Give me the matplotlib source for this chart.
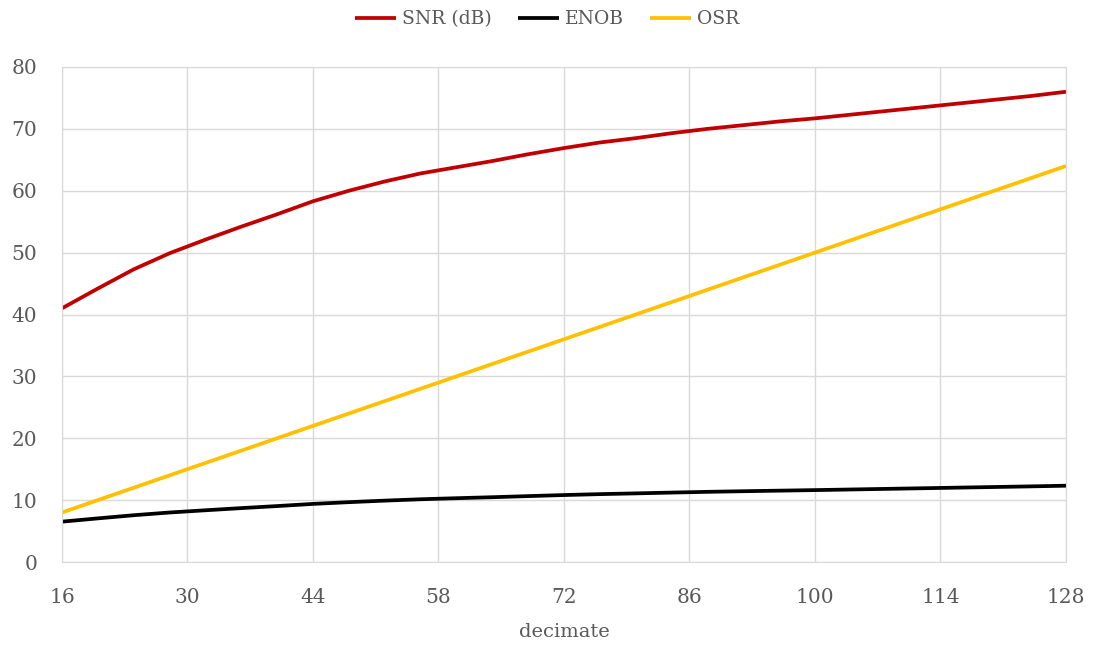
import matplotlib
matplotlib.use("Agg")
import matplotlib.pyplot as plt

# decimate values and the three series
decimate = [16, 20, 24, 28, 32, 36, 40, 44, 48, 52, 56, 60, 64, 68, 72,
            76, 80, 84, 88, 92, 96, 100, 104, 108, 112, 116, 120, 124, 128]
snr = [41.0, 44.2, 47.3, 49.9, 52.1, 54.2, 56.2, 58.3, 60.0, 61.5, 62.8, 63.8, 64.8, 65.9, 66.9,
       67.8, 68.5, 69.3, 70.0, 70.6, 71.2, 71.7, 72.3, 72.9, 73.5, 74.1, 74.7, 75.3, 76.0]
enob = [6.52, 7.05, 7.56, 8.00, 8.36, 8.71, 9.04, 9.39, 9.67, 9.92, 10.14, 10.31, 10.47, 10.65, 10.82,
        10.97, 11.09, 11.22, 11.34, 11.44, 11.53, 11.62, 11.72, 11.82, 11.92, 12.02, 12.12, 12.22, 12.33]
osr = [8, 10, 12, 14, 16, 18, 20, 22, 24, 26, 28, 30, 32, 34, 36,
       38, 40, 42, 44, 46, 48, 50, 52, 54, 56, 58, 60, 62, 64]

xticks = [16, 30, 44, 58, 72, 86, 100, 114, 128]
yticks = [0, 10, 20, 30, 40, 50, 60, 70, 80]

plt.rcParams['font.family'] = ['DejaVu Serif']

fig = plt.figure(figsize=(10.94, 6.45), dpi=100)
ax = fig.add_axes([62/1094, 1-562/645, (1066-62)/1094, (562-67)/645])

ax.plot(decimate, snr, color='#c00000', lw=2.7, label='SNR (dB)', solid_capstyle='butt')
ax.plot(decimate, enob, color='#000000', lw=2.7, label='ENOB', solid_capstyle='butt')
ax.plot(decimate, osr, color='#ffc000', lw=2.7, label='OSR', solid_capstyle='butt')

ax.set_xlim(16, 128)
ax.set_ylim(0, 80)
ax.set_xticks(xticks)
ax.set_yticks(yticks)
ax.grid(True, color='#d9d9d9', lw=1)
ax.set_axisbelow(True)
for s in ax.spines.values():
    s.set_color('#d9d9d9')
ax.tick_params(length=0, labelsize=14.5, colors='#595959')
ax.tick_params(axis='x', pad=19)
ax.tick_params(axis='y', pad=18)
ax.set_xlabel('decimate', fontsize=14, color='#595959', labelpad=11)

fig.legend(loc='upper center', bbox_to_anchor=(0.5, 1.01), ncol=3, frameon=False,
           fontsize=13.5, labelcolor='#595959', handlelength=2.2, columnspacing=1.4,
           handletextpad=0.3)

fig.savefig('out.png', dpi=100)
